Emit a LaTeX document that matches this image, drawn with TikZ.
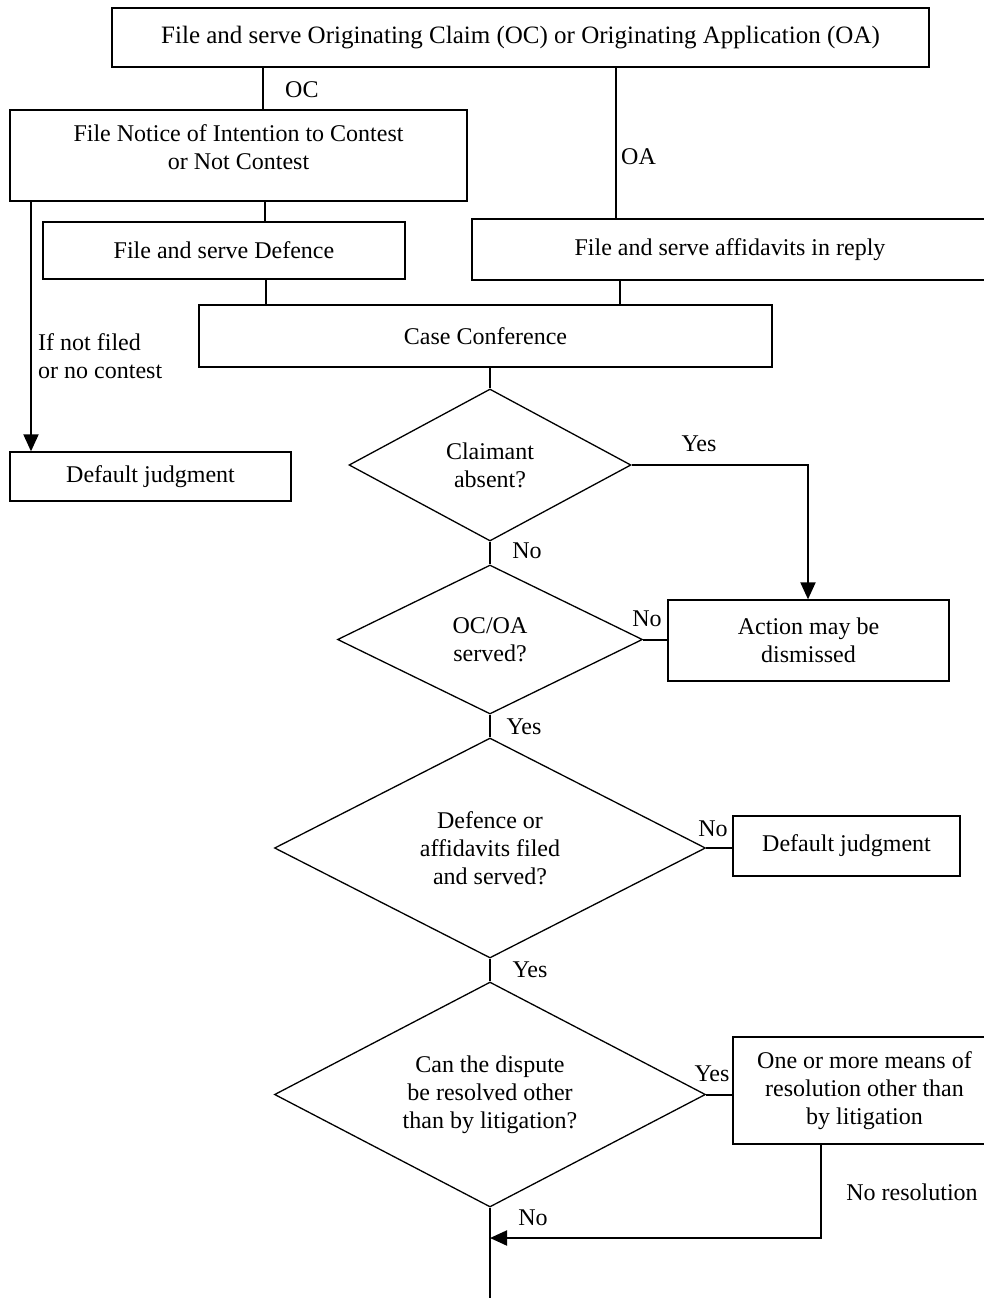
\documentclass[tikz,border=0pt]{standalone}
\usepackage{fontspec}
\setmainfont{Liberation Serif}
\usetikzlibrary{shapes.geometric,arrows.meta}
\tikzset{
  txt/.style={font=\fontsize{24}{28}\selectfont, align=center, inner sep=0pt},
  procbox/.style={txt, draw, line width=1.3pt, rectangle},
  decision/.style={txt, draw, line width=1.3pt, diamond, inner sep=0pt},
  conn/.style={line width=2pt},
  arr/.style={conn, -{Triangle[length=17pt,width=15pt]}},
  lbl/.style={txt}
}
\begin{document}
\begin{tikzpicture}[x=1pt,y=-1pt]
\useasboundingbox (0,0) rectangle (984,1298);
% boxes
\node[procbox, minimum width=817, minimum height=59, font=\fontsize{25}{29}\selectfont] (top) at (520.5,37.5) {File and serve Originating Claim (OC) or Originating Application (OA)};
\node[procbox, minimum width=457, minimum height=91] (notice) at (238.5,155.5) {};
\node[txt] (noticeT) at (238.5,147.5) {File Notice of Intention to Contest\\or Not Contest};
\node[procbox, minimum width=362, minimum height=57] (defence) at (224,250.5) {File and serve Defence};
\node[procbox, minimum width=516, minimum height=61] (affid) at (730,249.5) {File and serve affidavits in reply};
\node[procbox, minimum width=573, minimum height=62] (cc) at (485.5,336) {Case Conference};
\node[procbox, minimum width=281, minimum height=49] (dj1) at (150.5,476.5) {Default judgment};
\node[decision, aspect=1.86, minimum width=282, minimum height=152] (d1) at (490,465) {Claimant\\absent?};
\node[decision, aspect=2.05, minimum width=305, minimum height=149] (d2) at (490,639.5) {OC/OA\\served?};
\node[procbox, minimum width=281, minimum height=81] (action) at (808.5,640.5) {Action may be\\dismissed};
\node[decision, aspect=1.96, minimum width=431, minimum height=220] (d3) at (490,848) {Defence or\\affidavits filed\\and served?};
\node[procbox, minimum width=227, minimum height=60] (dj2) at (846.5,846) {Default judgment};
\node[decision, aspect=1.92, minimum width=431, minimum height=225] (d4) at (490,1094.5) {Can the dispute\\be resolved other\\than by litigation?};
\node[procbox, minimum width=263, minimum height=107] (res) at (864.5,1090.5) {One or more means of\\resolution other than\\by litigation};
% helper coordinates
\coordinate (xoc) at (263,0);
\coordinate (xoa) at (616,0);
\coordinate (xnd) at (265,0);
\coordinate (xleft) at (31,0);
\coordinate (xdc) at (266,0);
\coordinate (xac) at (620,0);
\coordinate (xres) at (821,0);
\coordinate (yes1) at (808,465);
\coordinate (resturn) at (821,1238);
\coordinate (join) at (490,1238);
\coordinate (bottom) at (490,1300);
% connectors
\draw[conn] (top.south -| xoc) -- (notice.north -| xoc);
\draw[conn] (top.south -| xoa) -- (affid.north -| xoa);
\draw[conn] (notice.south -| xnd) -- (defence.north -| xnd);
\draw[arr] (notice.south -| xleft) -- (dj1.north -| xleft);
\draw[conn] (defence.south -| xdc) -- (cc.north -| xdc);
\draw[conn] (affid.south -| xac) -- (cc.north -| xac);
\draw[conn] (cc.south -| d1.north) -- (d1.north);
\draw[arr] (d1.east) -- (yes1) -- (action.north -| yes1);
\draw[conn] (d1.south) -- (d2.north);
\draw[conn] (d2.east) -- (action.west |- d2.east);
\draw[conn] (d2.south) -- (d3.north);
\draw[conn] (d3.east) -- (dj2.west |- d3.east);
\draw[conn] (d3.south) -- (d4.north);
\draw[conn] (d4.east) -- (res.west |- d4.east);
\draw[arr] (res.south -| xres) -- (resturn) -- (join);
\draw[conn] (d4.south) -- (bottom);
% labels
\node[lbl, anchor=west] (lOC) at (285,90) {OC};
\node[lbl, anchor=west] (lOA) at (621,157) {OA};
\node[lbl, anchor=north west, align=left] (lnf) at (38,333) {If not filed\\or no contest};
\node[lbl] (l1) at (699,444) {Yes};
\node[lbl] (l2) at (527,551) {No};
\node[lbl] (l3) at (647,619) {No};
\node[lbl] (l4) at (524,727) {Yes};
\node[lbl] (l5) at (713,829) {No};
\node[lbl] (l6) at (530,970) {Yes};
\node[lbl] (l7) at (712,1074) {Yes};
\node[lbl] (l8) at (912,1192) {No resolution};
\node[lbl] (l9) at (533,1218) {No};
\end{tikzpicture}
\end{document}
